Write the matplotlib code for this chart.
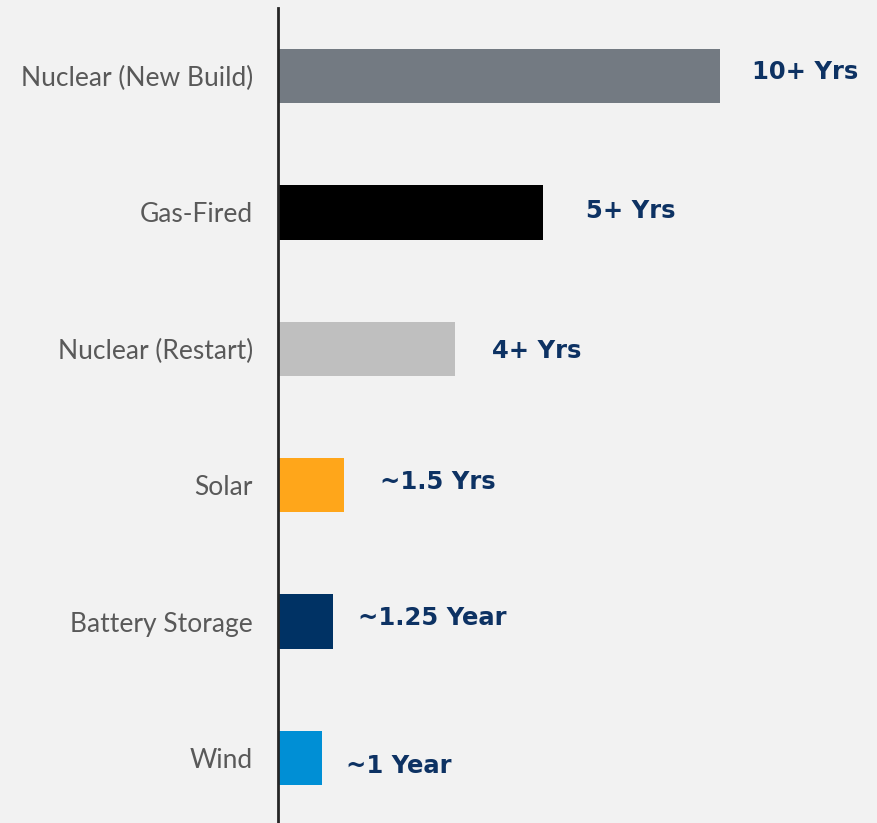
import matplotlib
matplotlib.use("Agg")
import matplotlib.pyplot as plt

# data
categories = ["Nuclear (New Build)", "Gas-Fired", "Nuclear (Restart)",
              "Solar", "Battery Storage", "Wind"]
years = [10, 6, 4, 1.5, 1.25, 1]
value_labels = ["10+ Yrs", "5+ Yrs", "4+ Yrs", "~1.5 Yrs", "~1.25 Year", "~1 Year"]

# styling
bar_colors = ["#737a82", "#000000", "#bfbfbf", "#ffa61a", "#003264", "#008fd5"]
label_dx = [32, 43, 37, 36, 25, 24]      # px right of bar end
label_dy = [-4, -1, 2, -3, -4, 8]        # px shift (down positive)

BG = "#f2f2f2"
W, H = 878, 823
fig = plt.figure(figsize=(W / 100, H / 100), dpi=100, facecolor=BG)

x0 = 278
px_per_unit = 44.2
top = 8
ax = fig.add_axes([x0 / W, 0, 1 - x0 / W, 1 - top / H])
ax.set_facecolor(BG)

ypos = list(range(len(categories)))
ax.barh(ypos, years, height=0.4, color=bar_colors, zorder=2)

ax.set_xlim(0, (W - x0) / px_per_unit)
spacing = 136.4
first_c = 76
ax.set_ylim(len(categories) - 1 + (H - (first_c + 5 * spacing)) / spacing,
            -(first_c - top) / spacing)

ax.set_yticks(ypos)
ax.set_yticklabels(categories, fontsize=19, color="#595959", family="Lato")
ax.tick_params(axis="y", length=0, pad=18)
ax.set_xticks([])
for s in ["top", "right", "bottom"]:
    ax.spines[s].set_visible(False)
ax.spines["left"].set_color("#262626")
ax.spines["left"].set_linewidth(2)

for i, (v, lab) in enumerate(zip(years, value_labels)):
    ax.annotate(lab, (v, i), xytext=(label_dx[i] * 0.72, -label_dy[i] * 0.72),
                textcoords="offset points", va="center", ha="left",
                fontsize=17.5, fontweight="bold", color="#0d3263", family="DejaVu Sans")

fig.savefig("out.png", dpi=100, facecolor=BG)
